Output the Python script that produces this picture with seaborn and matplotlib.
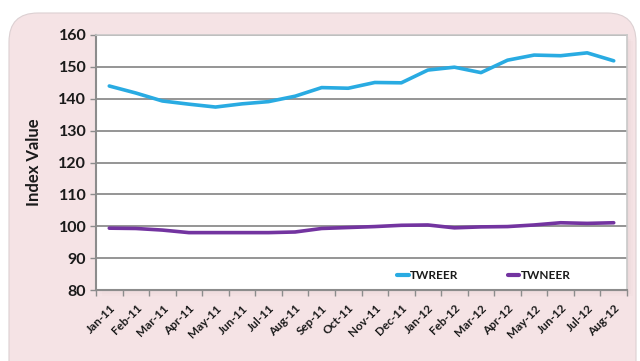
import matplotlib
matplotlib.use("Agg")
import matplotlib.pyplot as plt
from matplotlib.patches import FancyBboxPatch, Rectangle
import seaborn as sns
import pandas as pd

months = ["Jan-11", "Feb-11", "Mar-11", "Apr-11", "May-11", "Jun-11", "Jul-11",
          "Aug-11", "Sep-11", "Oct-11", "Nov-11", "Dec-11", "Jan-12", "Feb-12",
          "Mar-12", "Apr-12", "May-12", "Jun-12", "Jul-12", "Aug-12"]
twreer = [144.0, 141.8, 139.3, 138.3, 137.4, 138.4, 139.1, 140.8, 143.5, 143.3,
          145.1, 145.0, 149.0, 149.9, 148.2, 152.1, 153.7, 153.5, 154.4, 151.9]
twneer = [99.4, 99.3, 98.8, 98.0, 98.0, 98.0, 98.0, 98.2, 99.3, 99.6,
          99.9, 100.3, 100.4, 99.5, 99.8, 99.9, 100.4, 101.1, 100.9, 101.1]
yticks = [80, 90, 100, 110, 120, 130, 140, 150, 160]

df = pd.DataFrame({"Month": months * 2,
                   "Index Value": twreer + twneer,
                   "Series": ["TWREER"] * len(months) + ["TWNEER"] * len(months)})
df["pos"] = list(range(len(months))) * 2

sns.set_theme(style="white")
plt.rcParams["font.family"] = ["Lato", "DejaVu Sans"]

fig = plt.figure(figsize=(6.4, 3.61), dpi=100)
fig.patch.set_facecolor("white")

# rounded pink panel behind the chart
panel = FancyBboxPatch((9 / 640, -0.1), (636 - 9) / 640, (361 - 13) / 361 + 0.1,
                       boxstyle="round,pad=0,rounding_size=0.045",
                       transform=fig.transFigure, facecolor="#f5e3e5",
                       edgecolor="#dcd0d2", linewidth=0.8, zorder=-10,
                       mutation_aspect=640 / 361)
fig.patches.append(panel)

left, right, top, bottom = 96 / 640, 627 / 640, (361 - 35) / 361, (361 - 290) / 361
# soft shadow behind the plot area
for i, a in enumerate([0.05, 0.04, 0.03]):
    off = (i + 1) * 2
    fig.patches.append(Rectangle((left + off / 640, bottom - off / 361),
                                 right - left, top - bottom,
                                 transform=fig.transFigure, facecolor="#b89da2",
                                 alpha=a, edgecolor="none", zorder=-5))

ax = fig.add_axes([left, bottom, right - left, top - bottom])
ax.set_facecolor("white")

palette = {"TWREER": "#29abe2", "TWNEER": "#7334a0"}
sns.lineplot(data=df, x="pos", y="Index Value", hue="Series", palette=palette,
             linewidth=2.6, ax=ax, legend=True, solid_capstyle="round")

ax.set_xlim(-0.5, len(months) - 0.5)
ax.set_ylim(80, 160)
ax.set_yticks(yticks)
ax.yaxis.grid(True, color="#8c8c8c", linewidth=1.3)
ax.set_axisbelow(True)

ax.set_xticks([i + 0.5 for i in range(-1, len(months))], minor=False)
ax.set_xticklabels([])
ax.set_xticks(range(len(months)), minor=True)
ax.set_xticklabels(months, minor=True, rotation=45, ha="right",
                   rotation_mode="anchor", fontsize=8.5, fontweight="bold",
                   color="#1a1a1a")
ax.tick_params(axis="x", which="major", direction="out", length=4, width=1,
               color="#8c8c8c", bottom=True)
ax.tick_params(axis="x", which="minor", length=0, pad=9)
ax.tick_params(axis="y", direction="out", length=4, width=1, color="#8c8c8c",
               left=True, labelsize=11.5, pad=3)
for lab in ax.get_yticklabels():
    lab.set_fontweight("bold")
    lab.set_color("#1a1a1a")

ax.set_xlabel("")
ax.set_ylabel("Index Value", fontsize=12, fontweight="bold", color="#1a1a1a",
              labelpad=12)

for side in ["left", "bottom"]:
    ax.spines[side].set_color("#8c8c8c")
    ax.spines[side].set_linewidth(1.5)
for side in ["top", "right"]:
    ax.spines[side].set_color("#c8c8c8")
    ax.spines[side].set_linewidth(1.2)

leg = ax.legend(loc="lower center", bbox_to_anchor=(0.73, -0.005), ncol=2,
                frameon=False, handlelength=1.0, handletextpad=0.1,
                columnspacing=4.2, fontsize=8.5)
for t in leg.get_texts():
    t.set_fontweight("bold")
    t.set_color("#1a1a1a")
for h in leg.get_lines():
    h.set_linewidth(3)

fig.savefig("out.png", dpi=100, facecolor="white")
